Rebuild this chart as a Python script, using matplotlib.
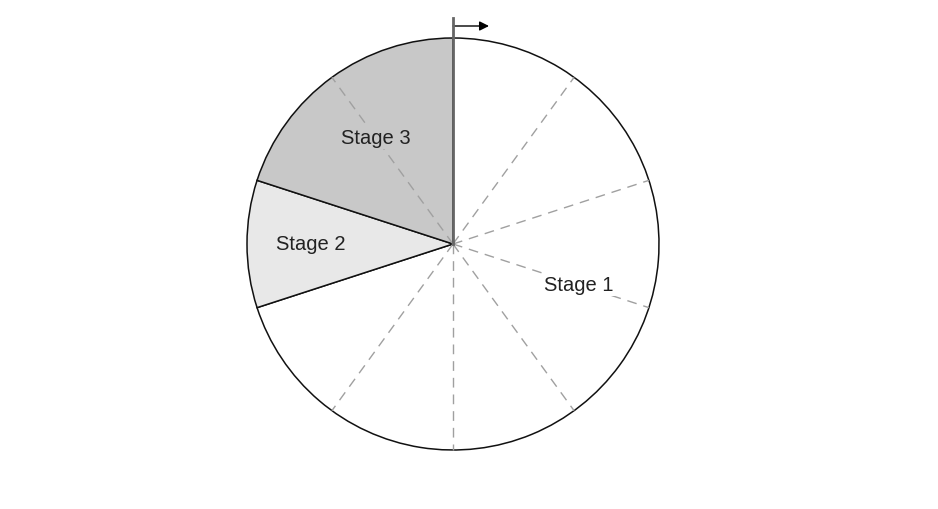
import numpy as np
import matplotlib.pyplot as plt

# Stage shares of the cycle (percent), clockwise from the top
stages = ["Stage 1", "Stage 2", "Stage 3"]
shares = [70, 10, 20]
fills = ["#ffffff", "#e8e8e8", "#c8c8c8"]
n_sectors = 10

# label placement: (clockwise angle from top in degrees, fraction of radius)
label_pos = [(108, 0.64), (270, 0.69), (324, 0.64)]

W, H = 938, 510
CX, CY, R = 453, H - 245, 206

fig = plt.figure(figsize=(W / 100, H / 100), dpi=100)
ax = fig.add_axes([0, 0, 1, 1])

ax.pie(shares, colors=fills, startangle=90, counterclock=False,
       center=(CX, CY), radius=R, frame=True,
       wedgeprops=dict(edgecolor="#111111", linewidth=1.1))
ax.set_xlim(0, W)
ax.set_ylim(0, H)
ax.set_aspect("equal")
ax.axis("off")

# dashed sector guides, skipped where a stage boundary already sits
bounds = np.cumsum([0] + shares) / 100 * 360
for a in np.arange(n_sectors) * 360 / n_sectors:
    if np.any(np.isclose(a, bounds % 360)):
        continue
    t = np.radians(90 - a)
    ax.plot([CX, CX + R * np.cos(t)], [CY, CY + R * np.sin(t)],
            color="#a0a0a0", lw=1, dashes=(7, 5), zorder=3)

# start marker at the top with direction arrow
ax.plot([CX, CX], [CY, H - 19], color="#666666", lw=2, zorder=4)
ax.annotate("", xy=(CX + 36, H - 27), xytext=(CX, H - 27),
            arrowprops=dict(arrowstyle="-|>", color="#777777", lw=1,
                            mutation_scale=14, fc="black", ec="black",
                            shrinkA=0, shrinkB=0))

for name, (ang, frac), fc in zip(stages, label_pos, fills):
    t = np.radians(90 - ang)
    ax.text(CX + frac * R * np.cos(t), CY + frac * R * np.sin(t), name,
            ha="center", va="center", fontsize=14.5, color="#222222",
            family="Liberation Sans", zorder=5,
            bbox=dict(boxstyle="square,pad=0.1", fc=fc, ec="none"))

fig.savefig("out.png", dpi=100, facecolor="white")
